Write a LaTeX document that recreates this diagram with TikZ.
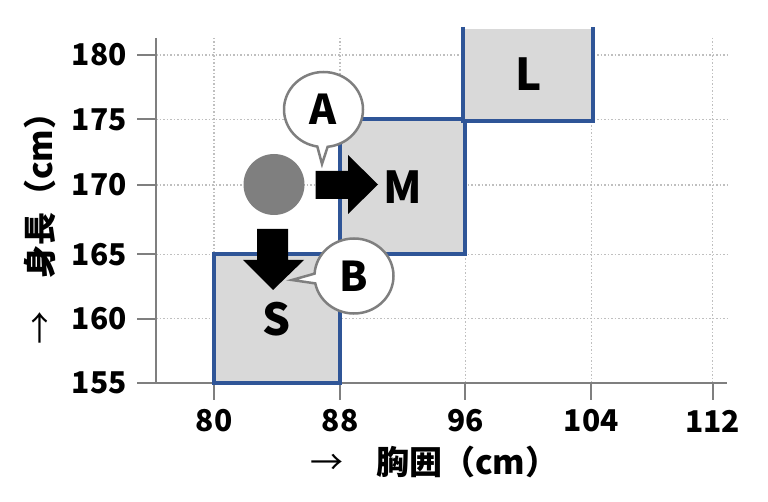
\documentclass[tikz,border=0pt]{standalone}
\usepackage{fontspec}
\setmainfont{Noto Sans CJK JP}
\usetikzlibrary{shapes.callouts}
\definecolor{sizeblue}{HTML}{2F5597}
\definecolor{sizefill}{HTML}{D9D9D9}
\definecolor{axisgray}{HTML}{7F7F7F}
\definecolor{gridgray}{HTML}{BFBFBF}
\tikzset{
  gridline/.style={gridgray, line width=1.5pt, dotted},
  axisline/.style={axisgray, line width=2pt},
  sizebox/.style={draw=sizeblue, line width=4pt, fill=sizefill, inner sep=0pt,
    font=\fontsize{44}{44}\selectfont\bfseries},
  ticklabel/.style={inner sep=0pt, font=\fontsize{30}{30}\selectfont\bfseries},
  axistitle/.style={inner sep=0pt, font=\fontsize{33}{33}\selectfont\bfseries},
  bubble/.style={ellipse callout, draw=axisgray, line width=2.5pt, fill=white,
    minimum width=79pt, minimum height=75pt, inner sep=0pt,
    font=\fontsize{41}{41}\selectfont\bfseries},
  bigarrow/.style={fill=black}
}
\begin{document}
\begin{tikzpicture}[x=1pt,y=-1pt]
\useasboundingbox (0,0) rectangle (768,502);

% grid
\foreach \yy in {55,119.5,185,254.3,318.7}
  \draw[gridline] (156,\yy) -- (727,\yy);
\foreach \xx in {214,340,465.3,591.3,712.5}
  \draw[gridline] (\xx,38) -- (\xx,383.3);

% axes
\draw[axisline] (156,38) -- (156,383.3) -- (727,383.3);
\foreach \yy/\t in {55/180,119.5/175,185/170,254.3/165,318.7/160,383.3/155}{
  \draw[axisline] (137,\yy) -- (156,\yy);
  \node[ticklabel, anchor=east] (yt\t) at (127,\yy) {\t};
}
\foreach \xx/\t in {214/80,340/88,465.3/96,591.3/104,712.5/112}{
  \draw[axisline] (\xx,383.3) -- (\xx,400);
  \node[ticklabel] (xt\t) at (\xx,421) {\t};
}

% size boxes
\node[sizebox, minimum width=126pt, minimum height=129pt] (S) at (277,318.8) {S};
\node[sizebox, minimum width=125.3pt, minimum height=134.8pt] (M) at (402.6,186.9) {M};
\node[sizebox, draw=none, minimum width=126pt, minimum height=90.5pt] (L) at (528.3,74.2) {L};
\draw[sizeblue, line width=4pt] (L.north west) -- (L.south west) -- (L.south east) -- (L.north east);

% point and arrows
\node[circle, fill=axisgray, minimum size=61pt, inner sep=0pt] (dot) at (274,184.5) {};
\fill[bigarrow] (315.5,171) -- (348,171) -- (348,155) -- (378,184.5) -- (348,214) -- (348,199) -- (315.5,199) -- cycle;
\fill[bigarrow] (257,229) -- (288,229) -- (288,260) -- (304,260) -- (273,290) -- (243,260) -- (257,260) -- cycle;

% callouts
\coordinate (tipA) at (322,164);
\node[bubble, callout absolute pointer={(tipA)}] (A) at (323.5,109.5) {A};
\coordinate (tipB) at (292,280);
\node[bubble, callout absolute pointer={(tipB)}] (B) at (354,276) {B};

% axis titles
\node[axistitle, anchor=west] (xtitle) at (310,462) {{\mdseries →}　胸囲（cm）};
\node[axistitle, anchor=west, rotate=90] (ytitle) at (40,345) {{\mdseries →}　身長（cm）};
\end{tikzpicture}
\end{document}
